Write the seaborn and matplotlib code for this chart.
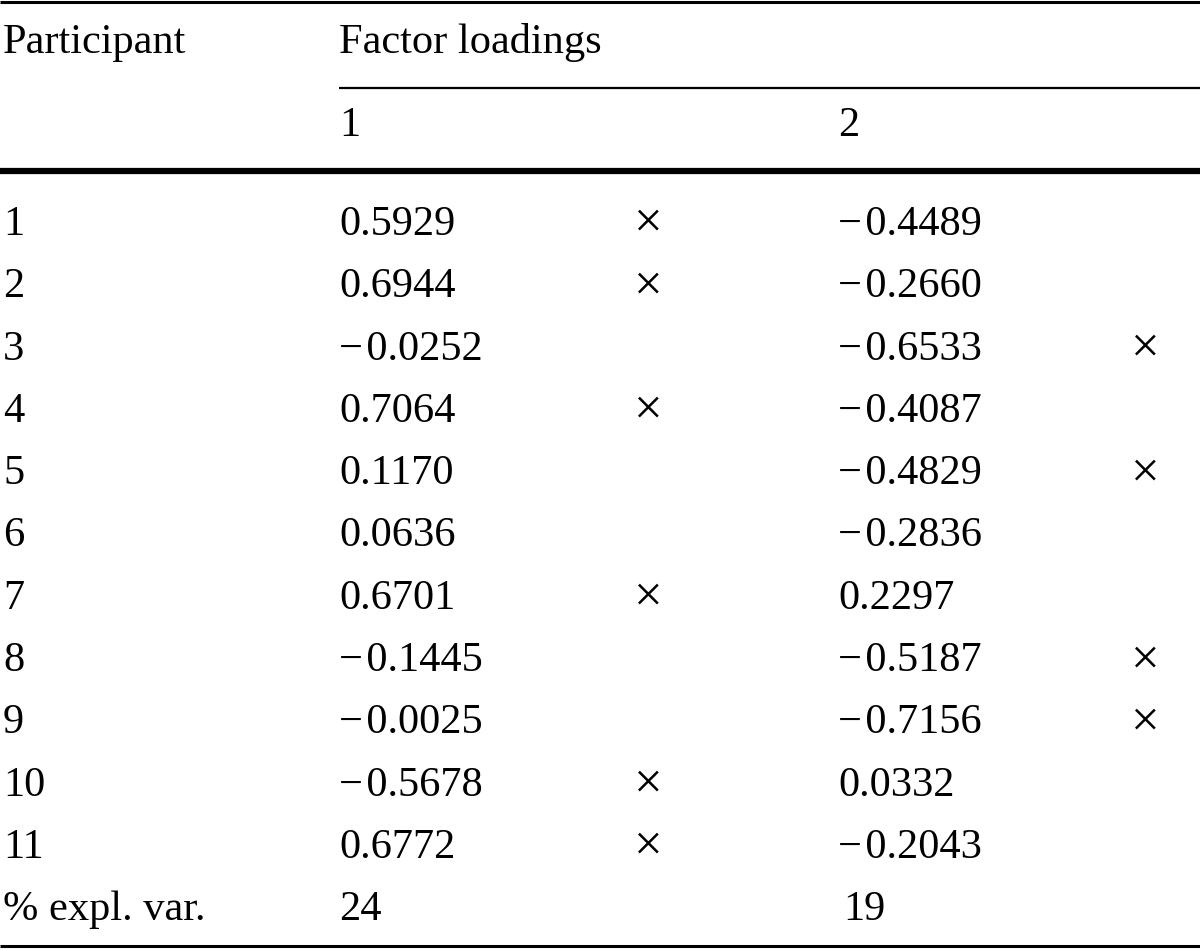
import matplotlib
matplotlib.use("Agg")
import matplotlib.pyplot as plt
import seaborn as sns

# table content
participants = ["1", "2", "3", "4", "5", "6", "7", "8", "9", "10", "11"]
factor1 = [0.5929, 0.6944, -0.0252, 0.7064, 0.1170, 0.0636, 0.6701, -0.1445, -0.0025, -0.5678, 0.6772]
factor2 = [-0.4489, -0.2660, -0.6533, -0.4087, -0.4829, -0.2836, 0.2297, -0.5187, -0.7156, 0.0332, -0.2043]
mark1 = [True, True, False, True, False, False, True, False, False, True, True]
mark2 = [False, False, True, False, True, False, False, True, True, False, False]
expl_var = [24, 19]

sns.set_theme(style="white")
plt.rcParams["font.family"] = ["Liberation Serif", "DejaVu Serif"]
plt.rcParams["text.color"] = "black"

fig = plt.figure(figsize=(12, 9.5), dpi=100)
ax = fig.add_axes([0, 0, 1, 1])
ax.set_xlim(0, 1200)
ax.set_ylim(950, 0)
ax.axis("off")

fs = 30.5
x_part, x_f1, x_m1, x_f2, x_m2 = 3, 339, 648, 838, 1145
y_first, dy = 235, 62.3


def fmt(v):
    s = f"{abs(v):.4f}"
    return ("\u2212\u200a" + s) if v < 0 else s


# rules
ax.hlines(1.5, 0, 1200, color="black", lw=2.2)
ax.hlines(87.5, x_f1, 1200, color="black", lw=1.6)
ax.hlines(170.5, 0, 1200, color="black", lw=4.5)
ax.hlines(945.5, 0, 1200, color="black", lw=2.2)

# header
ax.text(x_part, 53, "Participant", fontsize=fs, va="baseline", ha="left")
ax.text(x_f1, 53, "Factor loadings", fontsize=fs, va="baseline", ha="left")
ax.text(x_f1, 136, "1", fontsize=fs, va="baseline", ha="left")
ax.text(x_f2, 136, "2", fontsize=fs, va="baseline", ha="left")

# body
for i, p in enumerate(participants):
    yb = y_first + i * dy
    ax.text(x_part, yb, p, fontsize=fs, va="baseline", ha="left")
    ax.text(x_f1, yb, fmt(factor1[i]), fontsize=fs, va="baseline", ha="left")
    ax.text(x_f2, yb, fmt(factor2[i]), fontsize=fs, va="baseline", ha="left")
    if mark1[i]:
        ax.text(x_m1, yb + 2, "\u00d7", fontsize=fs * 1.2, va="baseline", ha="center")
    if mark2[i]:
        ax.text(x_m2, yb + 2, "\u00d7", fontsize=fs * 1.2, va="baseline", ha="center")

yb = y_first + len(participants) * dy
ax.text(x_part, yb, "% expl. var.", fontsize=fs, va="baseline", ha="left")
ax.text(x_f1, yb, str(expl_var[0]), fontsize=fs, va="baseline", ha="left")
ax.text(x_f2 + 5, yb, str(expl_var[1]), fontsize=fs, va="baseline", ha="left")

fig.savefig("out.png", dpi=100, facecolor="white")
